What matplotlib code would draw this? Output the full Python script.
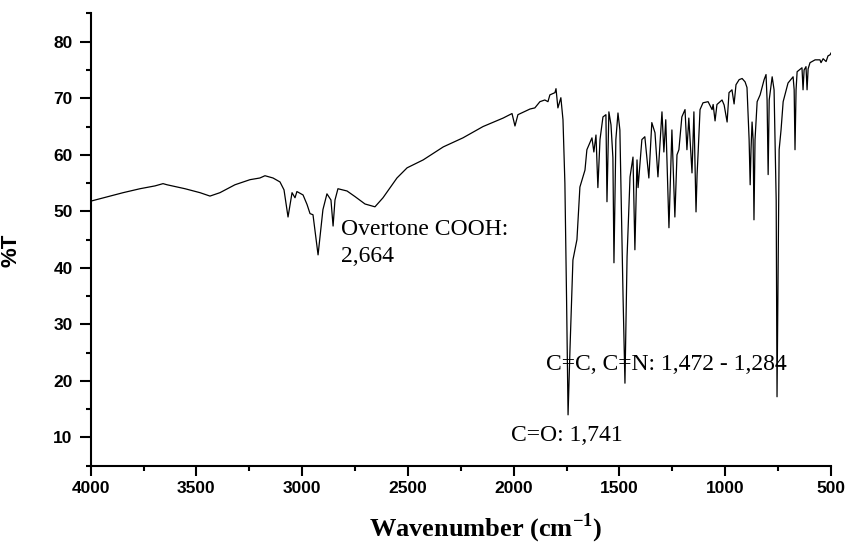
import matplotlib
matplotlib.use("Agg")
import matplotlib.pyplot as plt
from matplotlib.ticker import MultipleLocator

# IR spectrum (wavenumber in cm-1, %T)
wavenumber = [4000, 3909, 3847, 3767, 3696, 3658, 3639, 3554, 3483, 3436,
              3389, 3318, 3247, 3200, 3176, 3138, 3105, 3086, 3067, 3048,
              3034, 3025, 2996, 2977, 2963, 2949, 2925, 2902, 2883, 2864,
              2854, 2845, 2831, 2788, 2750, 2703, 2656, 2618, 2552, 2504,
              2428, 2333, 2240, 2145, 2050, 2008, 1994, 1980, 1923, 1900,
              1876, 1853, 1838, 1829, 1805, 1800, 1791, 1777, 1767, 1758,
              1750, 1743, 1734, 1720, 1701, 1687, 1663, 1654, 1630, 1621,
              1611, 1602, 1592, 1578, 1564, 1559, 1550, 1540, 1531, 1526,
              1517, 1507, 1498, 1483, 1474, 1464, 1450, 1436, 1427, 1417,
              1412, 1394, 1380, 1361, 1347, 1332, 1318, 1299, 1290, 1281,
              1266, 1252, 1238, 1228, 1219, 1205, 1190, 1181, 1172, 1157,
              1148, 1138, 1133, 1128, 1119, 1105, 1081, 1062, 1057, 1048,
              1039, 1015, 1005, 991, 982, 968, 958, 949, 934, 920,
              906, 897, 887, 882, 878, 873, 868, 864, 859, 849,
              835, 816, 807, 802, 797, 792, 778, 769, 759, 755,
              745, 736, 726, 703, 679, 674, 670, 665, 660, 637,
              632, 627, 618, 613, 608, 599, 575, 552, 547, 537,
              523, 514, 504, 500]
transmittance = [51.8, 52.7, 53.3, 54.0, 54.5, 54.9, 54.7, 54.0, 53.3, 52.7,
                 53.3, 54.7, 55.6, 55.9, 56.3, 55.9, 55.2, 53.8, 49.0, 53.3,
                 52.4, 53.5, 52.9, 51.2, 49.6, 49.4, 42.3, 50.3, 53.1, 52.0,
                 47.4, 52.0, 54.0, 53.6, 52.6, 51.3, 50.8, 52.4, 55.9, 57.7,
                 59.1, 61.4, 63.0, 65.0, 66.5, 67.3, 65.1, 67.1, 68.1, 68.3,
                 69.4, 69.7, 69.4, 70.6, 71.0, 71.7, 68.3, 70.1, 66.2, 55.0,
                 34.3, 14.0, 25.5, 41.4, 45.0, 54.3, 57.3, 60.9, 63.0, 60.5,
                 63.5, 54.2, 62.7, 66.7, 67.1, 51.7, 67.6, 65.3, 59.5, 40.9,
                 62.7, 67.4, 64.4, 34.9, 19.6, 42.0, 56.1, 59.6, 43.2, 59.1,
                 54.2, 62.7, 63.2, 55.9, 65.7, 63.9, 56.1, 67.6, 60.5, 66.2,
                 47.1, 64.4, 49.0, 60.0, 60.9, 66.7, 68.0, 60.9, 66.5, 56.8,
                 67.6, 49.9, 56.5, 60.4, 68.0, 69.2, 69.4, 68.0, 68.9, 66.0,
                 68.9, 69.7, 68.8, 65.8, 71.0, 71.5, 69.0, 72.4, 73.3, 73.5,
                 72.9, 71.9, 62.7, 54.7, 60.9, 65.8, 62.7, 48.5, 62.7, 69.4,
                 70.6, 73.3, 74.2, 69.7, 56.5, 69.7, 73.8, 71.5, 52.0, 17.2,
                 60.9, 64.4, 69.4, 72.7, 73.8, 71.5, 60.9, 71.5, 74.7, 75.4,
                 71.5, 75.0, 75.6, 71.5, 75.2, 76.3, 76.8, 76.8, 76.3, 77.0,
                 76.5, 77.5, 77.7, 78.0]

# annotations: (text, wavenumber of left edge, %T of baseline)
notes = [("Overtone COOH:", 2817, 45.8),
         ("2,664", 2817, 41.1),
         ("C=C, C=N: 1,472 - 1,284", 1847, 21.9),
         ("C=O: 1,741", 2013, 9.4)]

plt.rcParams["mathtext.fontset"] = "custom"
plt.rcParams["mathtext.rm"] = "Liberation Serif:bold"
plt.rcParams["mathtext.bf"] = "Liberation Serif:bold"

fig = plt.figure(figsize=(8.5, 5.44), dpi=100)
ax = fig.add_axes([0.1067, 0.1439, 0.8709, 0.8313])

ax.plot(wavenumber, transmittance, color="black", lw=0.9)

ax.set_xlim(4000, 500)
ax.set_ylim(5, 85)
ax.xaxis.set_major_locator(MultipleLocator(500))
ax.xaxis.set_minor_locator(MultipleLocator(250))
ax.yaxis.set_major_locator(MultipleLocator(10))
ax.yaxis.set_minor_locator(MultipleLocator(5))
ax.set_yticks(range(10, 90, 10))

for s in ["top", "right"]:
    ax.spines[s].set_visible(False)
for s in ["left", "bottom"]:
    ax.spines[s].set_linewidth(1.5)

ax.tick_params(axis="x", which="major", length=7, width=1.5, pad=4)
ax.tick_params(axis="x", which="minor", length=3.5, width=1.5)
ax.tick_params(axis="y", which="major", length=8, width=1.5, pad=5)
ax.tick_params(axis="y", which="minor", length=3.5, width=1.5)
for lab in ax.get_xticklabels() + ax.get_yticklabels():
    lab.set_family("Liberation Sans")
    lab.set_fontweight("bold")
    lab.set_fontsize(12.5)

ax.set_ylabel("%T", family="Liberation Sans", fontweight="bold", fontsize=16)
ax.yaxis.set_label_coords(-0.0935, 0.477)

fig.text(486 / 850, 1 - 528 / 544, "Wavenumber (cm$^{-1}$)", ha="center",
         va="center", family="Liberation Serif", fontweight="bold", fontsize=19)

for txt, x, y in notes:
    ax.text(x, y, txt, family="Liberation Serif", fontsize=17,
            ha="left", va="baseline")

fig.savefig("out.png", dpi=100)
